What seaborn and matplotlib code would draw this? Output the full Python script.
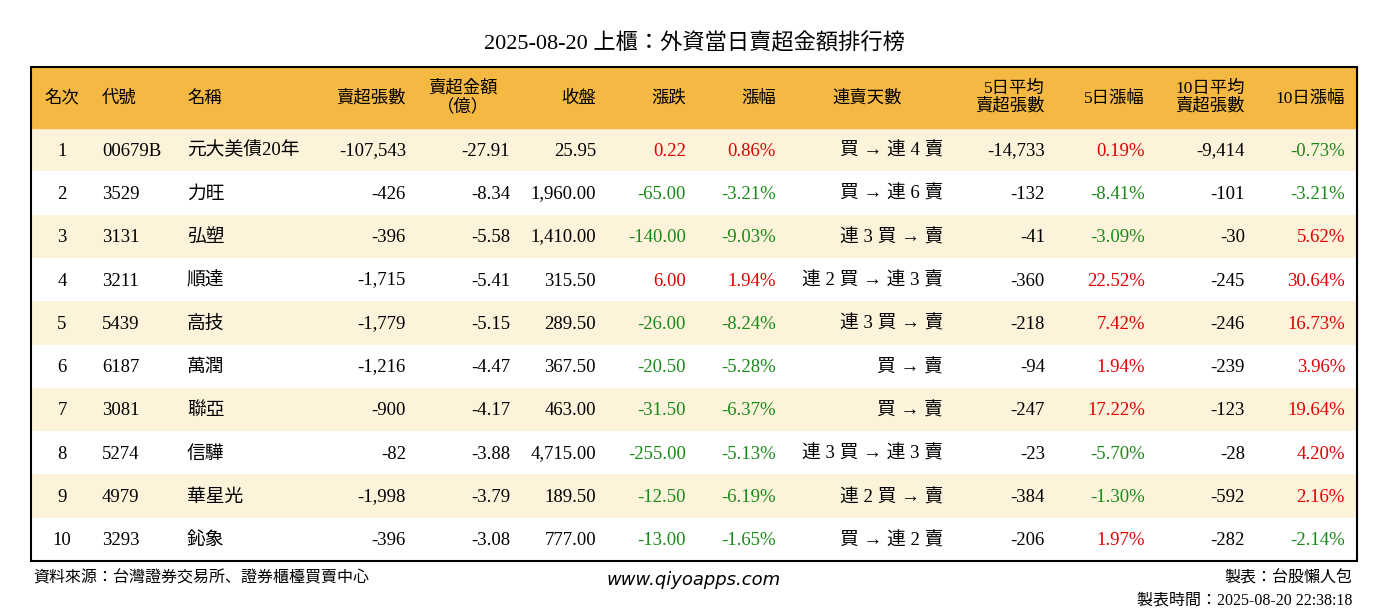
import matplotlib
matplotlib.use("Agg")
import matplotlib.pyplot as plt
from matplotlib import font_manager as fm
import seaborn as sns
import numpy as np

rank = [1,2,3,4,5,6,7,8,9,10]
codes = ["00679B","3529","3131","3211","5439","6187","3081","5274","4979","3293"]
names = ["元大美債20年","力旺","弘塑","順達","高技","萬潤","聯亞","信驊","華星光","鈊象"]
sell_vol = [-107543,-426,-396,-1715,-1779,-1216,-900,-82,-1998,-396]
sell_amt = [-27.91,-8.34,-5.58,-5.41,-5.15,-4.47,-4.17,-3.88,-3.79,-3.08]
close = [25.95,1960.00,1410.00,315.50,289.50,367.50,463.00,4715.00,189.50,777.00]
chg = [0.22,-65.00,-140.00,6.00,-26.00,-20.50,-31.50,-255.00,-12.50,-13.00]
pct = [0.86,-3.21,-9.03,1.94,-8.24,-5.28,-6.37,-5.13,-6.19,-1.65]
streak = ["買 → 連 4 賣","買 → 連 6 賣","連 3 買 → 賣","連 2 買 → 連 3 賣","連 3 買 → 賣",
          "買 → 賣","買 → 賣","連 3 買 → 連 3 賣","連 2 買 → 賣","買 → 連 2 賣"]
avg5 = [-14733,-132,-41,-360,-218,-94,-247,-23,-384,-206]
pct5 = [0.19,-8.41,-3.09,22.52,7.42,1.94,17.22,-5.70,-1.30,1.97]
avg10 = [-9414,-101,-30,-245,-246,-239,-123,-28,-592,-282]
pct10 = [-0.73,-3.21,5.62,30.64,16.73,3.96,19.64,4.20,2.16,-2.14]

avail = {f.name for f in fm.fontManager.ttflist}
cjk = next((n for n in ["Noto Serif CJK TC","Noto Sans CJK TC","Noto Sans CJK JP","Noto Sans CJK SC"] if n in avail), "DejaVu Sans")
MIX = ["Liberation Serif", cjk, "DejaVu Sans"]
plt.rcParams["font.family"] = MIX
W, H = 1388, 612
fig = plt.figure(figsize=(W/100, H/100), dpi=100)
ax = fig.add_axes([0, 0, 1, 1])
ax.set_xlim(0, W); ax.set_ylim(H, 0); ax.axis("off")

L, R, T, HB, B = 31, 1357, 67, 128, 561
bg = fig.add_axes([L/W, 1-B/H, (R-L)/W, (B-HB)/H])
parity = np.array([[i % 2] for i in range(10)])
sns.heatmap(parity, ax=bg, cmap=matplotlib.colors.ListedColormap(["#FDF2DA", "#FFFFFF"]),
            cbar=False, xticklabels=False, yticklabels=False)
bg.axis("off")
ax2 = fig.add_axes([0, 0, 1, 1], facecolor="none")
ax2.set_xlim(0, W); ax2.set_ylim(H, 0); ax2.axis("off")
ax2.add_patch(plt.Rectangle((L, T), R-L, HB-T, color="#F5B843", zorder=1))
ax2.add_patch(plt.Rectangle((L, T), R-L, B-T, fill=False, ec="black", lw=1.5, zorder=3))

def txt(x, y, s, **kw):
    fam = ["Liberation Serif"] if s.isascii() else MIX
    kw.setdefault("family", fam)
    if "," in s and s.isascii():
        y -= 1
    ax2.text(x, y, s, va="baseline", **kw)

txt(694, 49, "2025-08-20 上櫃：外資當日賣超金額排行榜", ha="center", fontsize=16)

fs = 13.5
def h(x, s, ha, two=False):
    if two:
        a, b = s.split("\n")
        txt(x, 93, a, ha=ha, fontsize=12.5)
        txt(x, 111, b, ha=ha, fontsize=12.5)
    else:
        txt(x, 103, s, ha=ha, fontsize=12.5)
h(62, "名次", "center"); h(102, "代號", "left"); h(187, "名稱", "left")
h(406, "賣超張數", "right"); h(463, "賣超金額\n（億）", "center", True); h(596, "收盤", "right")
h(686, "漲跌", "right"); h(776, "漲幅", "right"); h(867, "連賣天數", "center")
h(1045, "5日平均\n賣超張數", "right", True); h(1145, "5日漲幅", "right")
h(1245, "10日平均\n賣超張數", "right", True); h(1345, "10日漲幅", "right")

RED, GRN = "#E00000", "#178A17"
col = lambda v: RED if v > 0 else GRN
rh = (B-HB)/10
for i in range(10):
    y = HB + rh*(i+0.5) + 6
    t = lambda x, s, ha="right", c="black": txt(x, y, s, ha=ha, fontsize=fs, color=c)
    t(62, str(rank[i]), "center"); t(102, codes[i], "left"); t(187, names[i], "left")
    t(406, f"{sell_vol[i]:,}"); t(510, f"{sell_amt[i]:.2f}"); t(596, f"{close[i]:,.2f}")
    t(686, f"{chg[i]:.2f}", c=col(chg[i])); t(776, f"{pct[i]:.2f}%", c=col(pct[i]))
    t(943, streak[i]); t(1045, f"{avg5[i]:,}"); t(1145, f"{pct5[i]:.2f}%", c=col(pct5[i]))
    t(1245, f"{avg10[i]:,}"); t(1345, f"{pct10[i]:.2f}%", c=col(pct10[i]))

txt(33, 582, "資料來源：台灣證券交易所、證券櫃檯買賣中心", ha="left", fontsize=11.5)
txt(694, 585, "www.qiyoapps.com", ha="center", fontsize=13, style="italic", family="DejaVu Sans")
txt(1352, 582, "製表：台股懶人包", ha="right", fontsize=11.5)
txt(1352, 604, "製表時間：2025-08-20 22:38:18", ha="right", fontsize=11.5)
fig.savefig("out.png", dpi=100)
